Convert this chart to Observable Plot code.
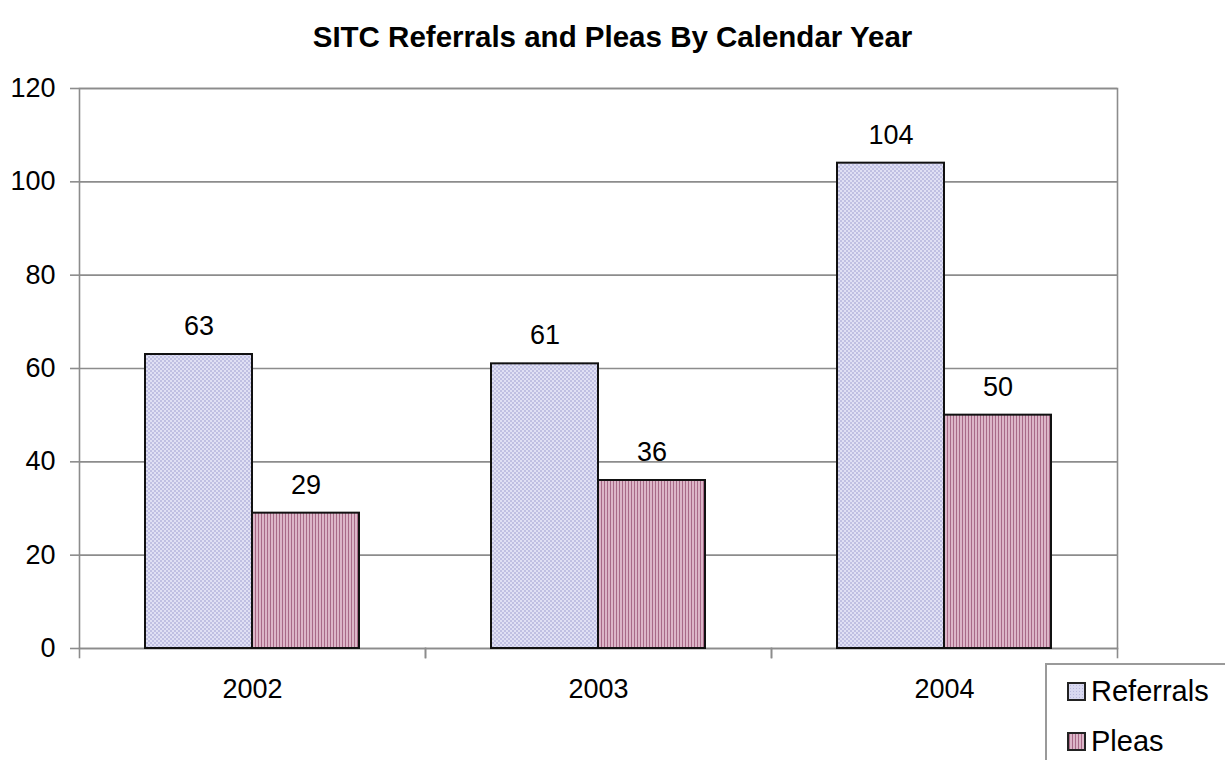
<!DOCTYPE html>
<html>
<head>
<meta charset="utf-8">
<script src="https://cdn.jsdelivr.net/npm/d3@7"></script>
<script src="https://cdn.jsdelivr.net/npm/@observablehq/plot@0.6"></script>
<style>
  body { margin: 0; background: #fff; font-family: "Liberation Sans", Arial, sans-serif; }
  #wrap { position: relative; width: 1225px; height: 760px; overflow: hidden; }
  #title { position: absolute; left: 0; width: 1225px; top: 20px; text-align: center;
           font-weight: bold; font-size: 29.5px; line-height: 34px; color: #000; }
  #chart { position: absolute; left: 0; top: 0; }
  #legend { position: absolute; left: 1045px; top: 663px; width: 200px; height: 120px;
            border: 2px solid #9a9a9a; box-sizing: border-box; background: #fff; }
  .item { position: absolute; left: 20px; font-size: 29px; line-height: 32px; color: #000; display: flex; align-items: center; }
  .sw { width: 15px; height: 15px; border: 2px solid #222; margin-right: 5px; }
  .sw.ref { background-color: #d8d8f0;
    background-image: radial-gradient(#b8b8dc 35%, transparent 40%); background-size: 3px 3px; }
  .sw.ple { background: repeating-linear-gradient(90deg, #a86a88 0 1px, #dcb6c8 1px 3px); }
</style>
</head>
<body>
<div id="wrap">
  <div id="chart"></div>
  <div id="title">SITC Referrals and Pleas By Calendar Year</div>
  <div id="legend">
    <div class="item" style="top:10px"><div class="sw ref"></div>Referrals</div>
    <div class="item" style="top:60px"><div class="sw ple"></div>Pleas</div>
  </div>
</div>
<script>
const years = ["2002", "2003", "2004"];
const seriesNames = ["Referrals", "Pleas"];
const referrals = [63, 61, 104];
const pleas = [29, 36, 50];
const yTicks = [0, 20, 40, 60, 80, 100, 120];

const rows = [];
years.forEach((y, i) => {
  rows.push({year: y, series: "Referrals", value: referrals[i]});
  rows.push({year: y, series: "Pleas", value: pleas[i]});
});

const W = 1225, H = 760;
const mT = 88, mB = 112, mL = 79, mR = 108;
const plotH = H - mT - mB;

const chart = Plot.plot({
  width: W, height: H,
  marginTop: mT, marginBottom: mB, marginLeft: mL, marginRight: mR,
  style: {fontFamily: "'Liberation Sans', Arial, sans-serif", fontSize: "27px", color: "#000", background: "transparent"},
  fx: {domain: years, paddingInner: 0, paddingOuter: 0, label: null},
  x: {domain: seriesNames, paddingInner: 0, paddingOuter: 0.61, axis: null},
  y: {domain: [0, 120], label: null},
  marks: [
    Plot.gridY(yTicks, {stroke: "#8c8c8c", strokeOpacity: 1, strokeWidth: 1.6}),
    Plot.frame({anchor: "left", stroke: "#8c8c8c", strokeWidth: 1.6, insetTop: plotH, insetBottom: -9}),
    Plot.frame({anchor: "right", stroke: "#8c8c8c", strokeWidth: 1.6, insetTop: plotH, insetBottom: -9}),
    Plot.frame({facet: "super", stroke: "#8c8c8c", strokeWidth: 1.6}),
    Plot.axisY(yTicks, {tickSize: 9, tickPadding: 15, stroke: "#8c8c8c", strokeWidth: 1.6, fontSize: 27, fill: "#000"}),
    Plot.axisFx({anchor: "bottom", tickSize: 0, tickPadding: 30, fontSize: 27, fill: "#000"}),
    Plot.barY(rows, {fx: "year", x: "series", y: "value",
      fill: d => d.series === "Referrals" ? "url(#patRef)" : "url(#patPle)",
      stroke: "#111", strokeWidth: 2}),
    Plot.text(rows, {fx: "year", x: "series", y: "value", text: d => String(d.value),
      dy: -28, fontSize: 27, fill: "#000"})
  ]
});

// add fill patterns
const svgNS = "http://www.w3.org/2000/svg";
const defs = document.createElementNS(svgNS, "defs");
defs.innerHTML = `
  <pattern id="patRef" patternUnits="userSpaceOnUse" width="4" height="4">
    <rect width="4" height="4" fill="#e0e0f4"/>
    <rect x="0" y="0" width="2" height="2" fill="#c0c0e2"/>
    <rect x="2" y="2" width="2" height="2" fill="#c0c0e2"/>
  </pattern>
  <pattern id="patPle" patternUnits="userSpaceOnUse" width="3" height="4">
    <rect width="3" height="4" fill="#dcb6c8"/>
    <rect x="0" y="0" width="1" height="4" fill="#a86a88"/>
  </pattern>`;
const svgEl = chart.tagName.toLowerCase() === "svg" ? chart : chart.querySelector("svg");
svgEl.insertBefore(defs, svgEl.firstChild);

document.getElementById("chart").appendChild(chart);
</script>
</body>
</html>
